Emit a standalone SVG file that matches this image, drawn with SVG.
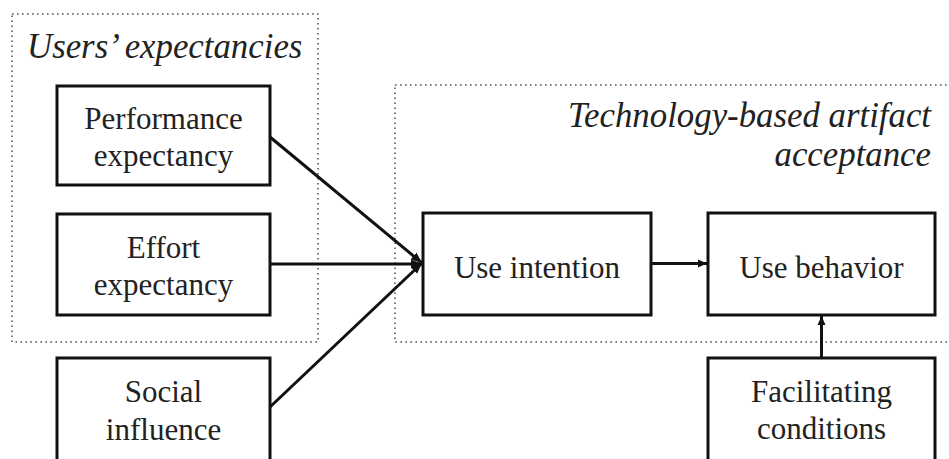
<svg xmlns="http://www.w3.org/2000/svg" width="949" height="459" viewBox="0 0 949 459">
<style>
.box{fill:#fff;stroke:#111;stroke-width:3}
.grp{fill:none;stroke:#555;stroke-width:1.6;stroke-dasharray:1.6 3.4}
.t{font-family:"Liberation Serif","Times New Roman",serif;font-size:31px;fill:#222;text-anchor:middle}
.ti{font-family:"Liberation Serif","Times New Roman",serif;font-size:34.8px;font-style:italic;fill:#222}
.c{fill:none;stroke:#111;stroke-width:3}
</style>
<defs>
<marker id="ah" markerUnits="userSpaceOnUse" markerWidth="12" markerHeight="10" refX="11" refY="5" orient="auto">
<path d="M0,0.5 L11,5 L0,9.5 z" fill="#111"/>
</marker>
<marker id="ahs" markerUnits="userSpaceOnUse" markerWidth="10" markerHeight="9" refX="9" refY="4.5" orient="auto">
<path d="M0,0.5 L9,4.5 L0,8.5 z" fill="#111"/>
</marker>
</defs>
<rect width="949" height="459" fill="#fff"/>
<g id="group-users">
<rect class="grp" x="12" y="14" width="306" height="328"/>
<text class="ti" x="27" y="58">Users’ expectancies</text>
</g>
<g id="group-tech">
<rect class="grp" x="395" y="85" width="570" height="257"/>
<text class="ti" x="931" y="127" text-anchor="end">Technology-based artifact</text>
<text class="ti" x="931" y="166" text-anchor="end">acceptance</text>
</g>
<g id="connectors">
<line class="c" x1="270" y1="137" x2="422" y2="263" marker-end="url(#ah)"/>
<line class="c" x1="270" y1="264" x2="422" y2="264" marker-end="url(#ah)"/>
<line class="c" x1="270" y1="407" x2="422" y2="263" marker-end="url(#ah)"/>
<line class="c" x1="651" y1="263.5" x2="707" y2="263.5" stroke-width="2.5" marker-end="url(#ahs)"/>
<line class="c" x1="821.5" y1="358" x2="821.5" y2="316" stroke-width="2.5" marker-end="url(#ahs)"/>
</g>
<g id="node-performance">
<rect class="box" x="57" y="86" width="213" height="99"/>
<text class="t" x="163.5" y="129">Performance</text>
<text class="t" x="163.5" y="166">expectancy</text>
</g>
<g id="node-effort">
<rect class="box" x="57" y="214" width="213" height="101"/>
<text class="t" x="163.5" y="258">Effort</text>
<text class="t" x="163.5" y="295">expectancy</text>
</g>
<g id="node-social">
<rect class="box" x="57" y="358" width="213" height="106"/>
<text class="t" x="163.5" y="402">Social</text>
<text class="t" x="163.5" y="440">influence</text>
</g>
<g id="node-intention">
<rect class="box" x="423" y="213" width="228" height="102"/>
<text class="t" x="537" y="278">Use intention</text>
</g>
<g id="node-behavior">
<rect class="box" x="708" y="213" width="227" height="102"/>
<text class="t" x="821.5" y="278">Use behavior</text>
</g>
<g id="node-facilitating">
<rect class="box" x="708" y="358" width="227" height="106"/>
<text class="t" x="821.5" y="402">Facilitating</text>
<text class="t" x="821.5" y="439">conditions</text>
</g>
</svg>
